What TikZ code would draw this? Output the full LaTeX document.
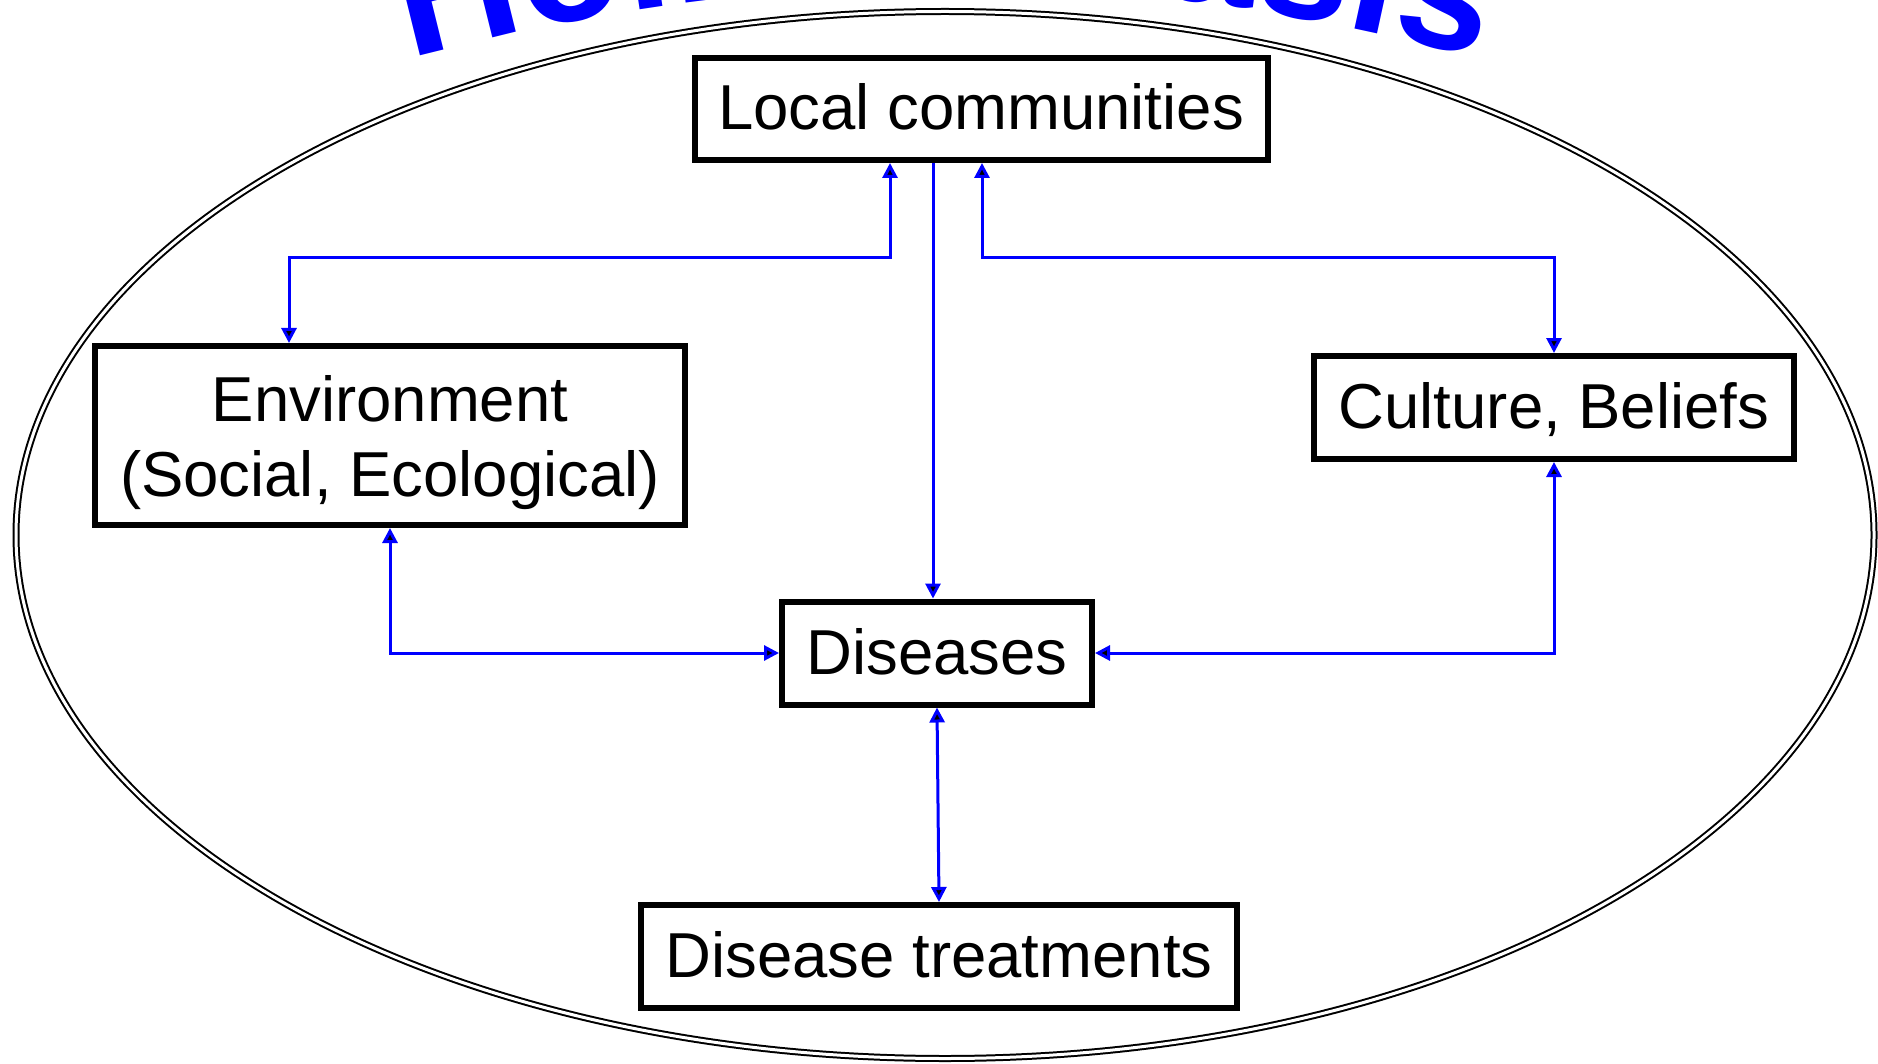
\documentclass[tikz,border=0pt]{standalone}
\usepackage{fontspec}
\setmainfont{Liberation Sans}
\newfontfamily\titlefam{Liberation Sans}
\usetikzlibrary{arrows.meta,decorations.text}
\begin{document}
\begin{tikzpicture}[x=1pt,y=-1pt,
  box/.style={draw=black,line width=6pt,inner sep=0pt,align=center,
    font=\fontsize{63.5}{75}\selectfont},
  onebox/.style={box,text height=46pt,text depth=4pt},
  conn/.style={draw=blue,line width=3pt},
  both/.style={conn,{Triangle[length=15pt,width=15pt]}-{Triangle[length=15pt,width=15pt]}},
  single/.style={conn,-{Triangle[length=15pt,width=15pt]}}]
\useasboundingbox (0,0) rectangle (1878,1064);
\clip (0,0) rectangle (1878,1064);
\fill[white] (0,0) rectangle (1878,1064);

% title along arc
\path[decorate,decoration={text along path,text align=center,text color=blue,
  text={|\titlefam\bfseries\fontsize{168}{168}\selectfont|Holistic basis}}]
  (404,61) .. controls (757.6,-39.3) and (1132.4,-39.3) .. (1486,61);

% frame ellipse
\draw[line width=2pt,double distance=3pt] (945,535) ellipse [x radius=929, y radius=523.5];

% boxes
\node[onebox,minimum width=573pt,minimum height=102pt] (lc) at (981,109) {Local communities};
\node[box,minimum width=590pt,minimum height=179pt] (env) at (390,435.5) {\rule{0pt}{60pt}Environment\\(Social, Ecological)};
\node[onebox,minimum width=480pt,minimum height=103pt] (cul) at (1554,407.5) {Culture, Beliefs};
\node[onebox,minimum width=310pt,minimum height=103pt] (dis) at (937,653) {Diseases};
\node[onebox,minimum width=596pt,minimum height=103pt] (tr) at (939,956.5) {Disease treatments};

% connectors
\coordinate (a1) at (890,258);
\coordinate (a2) at (289,258);
\coordinate (b1) at (982,258);
\coordinate (m1) at (933,400);
\draw[both] (lc.south -| a1) -- (a1) -- (a2) -- (env.north -| a2);
\draw[single] (lc.south -| m1) -- (dis.north -| m1);
\draw[both] (lc.south -| b1) -- (b1) -| (cul.north);
\draw[both] (env.south) |- (dis.west);
\draw[both] (cul.south) |- (dis.east);
\draw[both] (dis.south) -- (tr.north);
\end{tikzpicture}
\end{document}
